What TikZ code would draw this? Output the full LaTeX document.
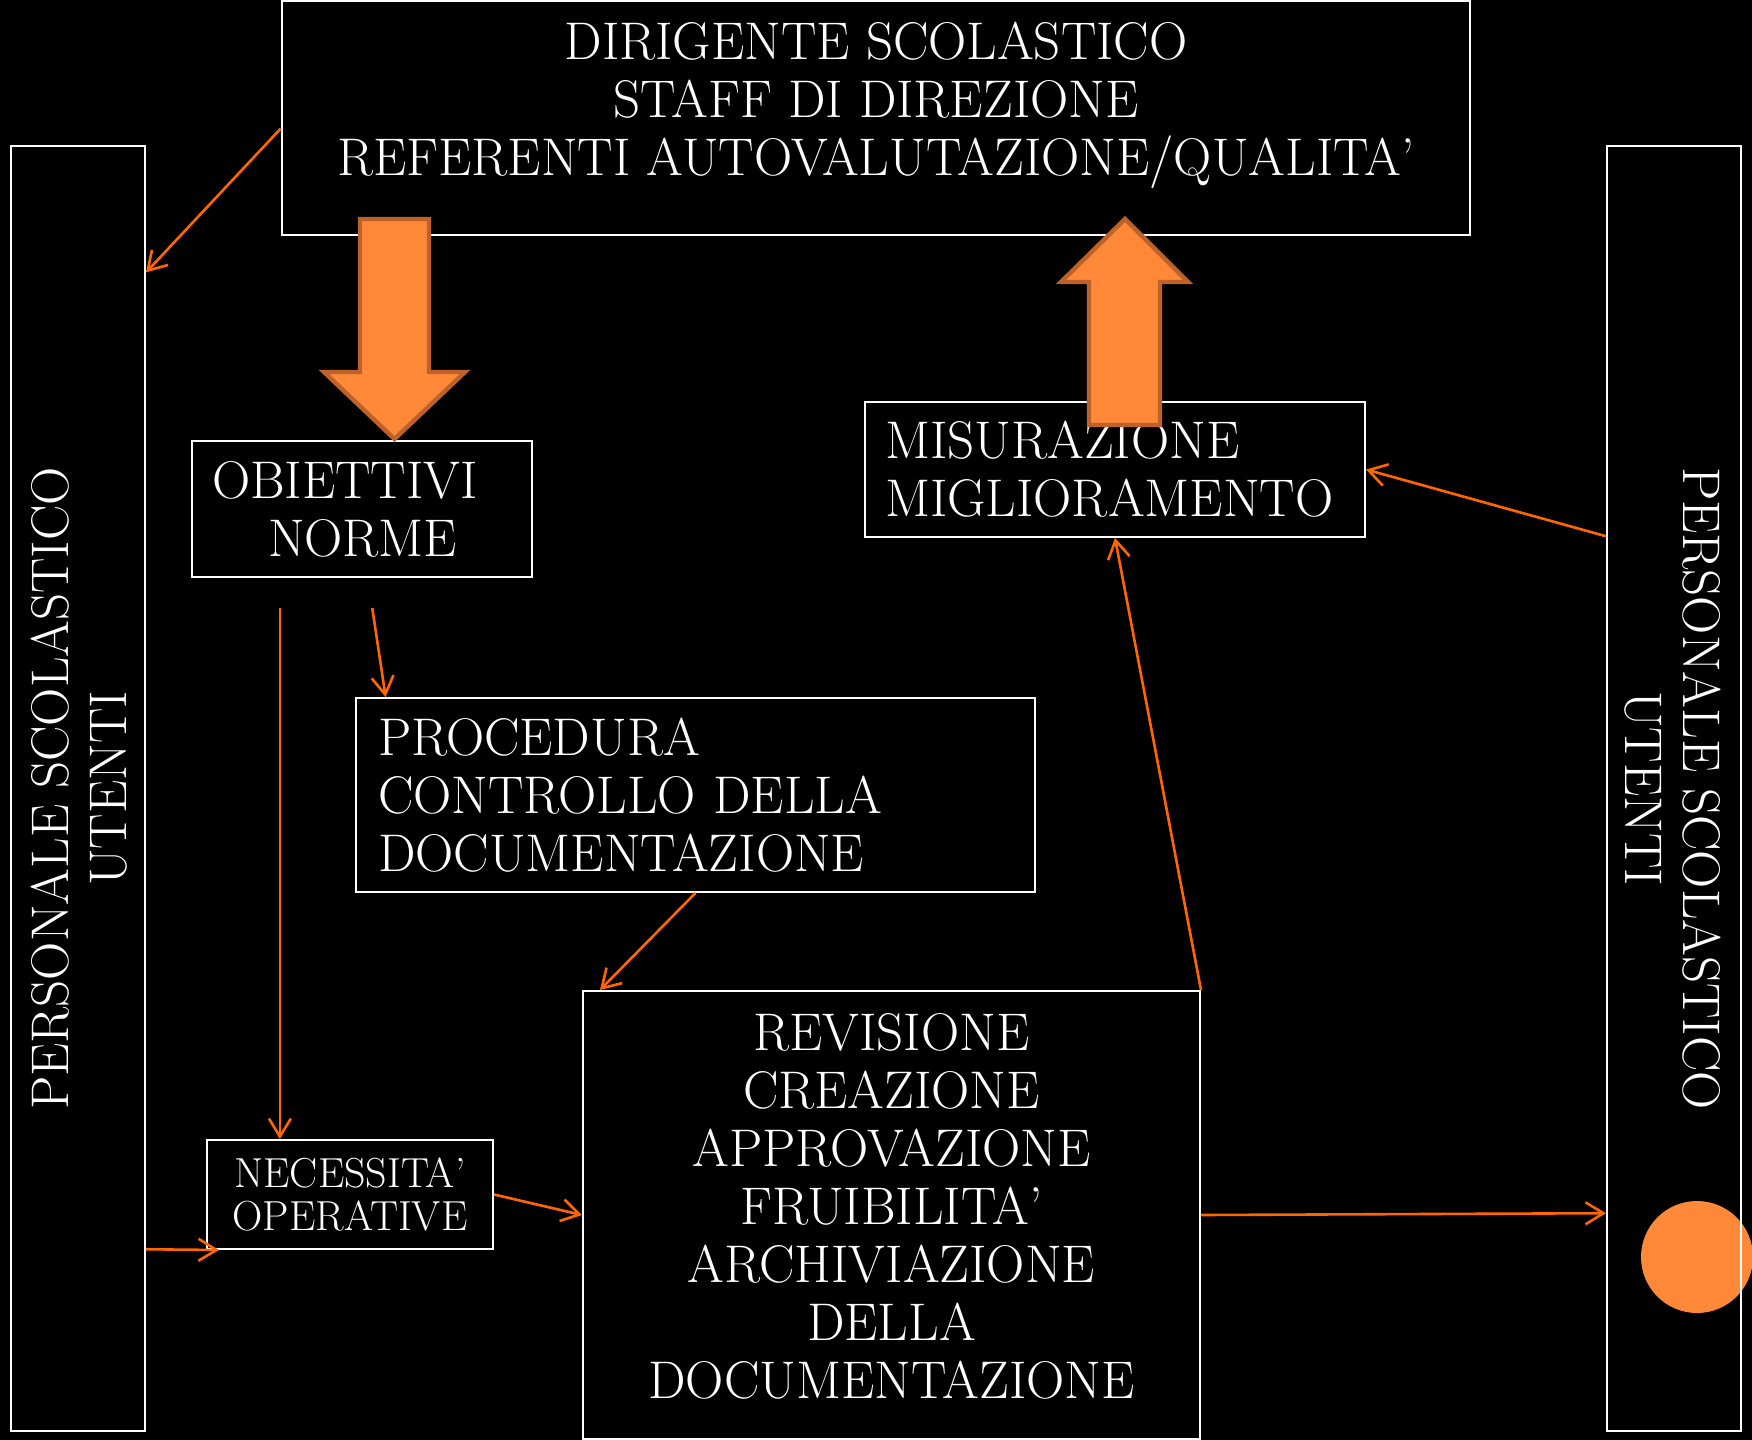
\documentclass[tikz,border=0pt]{standalone}
\usetikzlibrary{arrows.meta,calc}
\definecolor{flowor}{RGB}{255,102,0}
\definecolor{bigor}{RGB}{255,137,57}
\definecolor{bigedge}{RGB}{190,98,42}
\begin{document}
\begin{tikzpicture}[x=0.5pt,y=-0.5pt,
  box/.style={draw=white,line width=1pt,text=white,inner sep=0pt,font=\fontsize{26.5}{29}\selectfont},
  leftbox/.style={box,align=left,inner xsep=10pt},
  flow/.style={draw=flowor,line width=1.3pt,-{Straight Barb[length=9pt,width=11pt]}},
  bigarrow/.style={fill=bigor,draw=bigedge,line width=2.2pt,line join=miter}]
\fill[black] (0,0) rectangle (1752,1440);
\clip (0,0) rectangle (1752,1440);
\fill[bigor] (1697,1257) circle[radius=28pt];
% boxes
\node[box,minimum width=594.4pt,minimum height=116.8pt,
  label={[box,draw=none,align=center,anchor=north,yshift=-10.5pt]north:{DIRIGENTE SCOLASTICO\\STAFF DI DIREZIONE\\REFERENTI AUTOVALUTAZIONE/QUALITA’}}] (dir) at (876,117.8) {};
\node[box,minimum width=67pt,minimum height=642.5pt] (stafl) at (78,788.5)
  {\rotatebox{90}{\raisebox{-4pt}[\height][\depth]{\begin{tabular}{@{}c@{}}PERSONALE SCOLASTICO\\UTENTI\end{tabular}}}};
\node[box,minimum width=67pt,minimum height=642.5pt] (stafr) at (1674,788.5)
  {\rotatebox{-90}{\raisebox{-4pt}[\height][\depth]{\begin{tabular}{@{}c@{}}PERSONALE SCOLASTICO\\UTENTI\end{tabular}}}};
\node[leftbox,text width=150pt,minimum height=68pt] (obj) at (362,509) {OBIETTIVI\\\hspace*{28pt}NORME};
\node[leftbox,text width=230pt,minimum height=67.5pt] (mis) at (1115,469.5) {MISURAZIONE\\MIGLIORAMENTO};
\node[leftbox,inner xsep=11pt,text width=317.5pt,minimum height=97pt] (proc) at (695.5,795) {PROCEDURA\\CONTROLLO DELLA\\DOCUMENTAZIONE};
\node[box,align=center,minimum width=143pt,minimum height=54.5pt,font=\fontsize{21}{21.8}\selectfont] (nec) at (350,1194.5) {NECESSITA’\\OPERATIVE};
\node[box,align=center,minimum width=308.5pt,minimum height=224pt] (rev) at (891.5,1215)
  {REVISIONE\\CREAZIONE\\APPROVAZIONE\\FRUIBILITA’\\ARCHIVIAZIONE\\DELLA\\DOCUMENTAZIONE\rule[-9.5pt]{0pt}{0pt}};
% big arrows
\draw[bigarrow] (360,219) -- (429,219) -- (429,372) -- (465,372) -- (394.5,439) -- (324,372) -- (360,372) -- cycle;
\draw[bigarrow] (1089,425) -- (1160,425) -- (1160,282) -- (1188,282) -- (1125,219) -- (1061,282) -- (1089,282) -- cycle;
% thin arrows
\coordinate (o1) at ($(obj.south west)!0.26!(obj.south east)+(0,30)$);
\coordinate (o2) at ($(obj.south west)!0.53!(obj.south east)+(0,30)$);
\draw[flow] ($(dir.north west)!0.546!(dir.south west)$) -- ($(stafl.north east)!0.099!(stafl.south east)$);
\draw[flow] (o1) -- (nec.north -| o1);
\draw[flow] (o2) -- ($(proc.north west)!0.045!(proc.north east)$);
\draw[flow] (proc.south) -- ($(rev.north west)!0.029!(rev.north east)$);
\draw[flow] (nec.east) -- (rev.west);
\draw[flow] ($(stafl.north east)!0.858!(stafl.south east)$) -- ($(nec.south west)+(13,0)$);
\draw[flow] (rev.east) -- ($(stafr.north west)!0.83!(stafr.south west)$);
\draw[flow] (rev.north east) -- (mis.south);
\draw[flow] ($(stafr.north west)!0.304!(stafr.south west)$) -- (mis.east);
\end{tikzpicture}
\end{document}
